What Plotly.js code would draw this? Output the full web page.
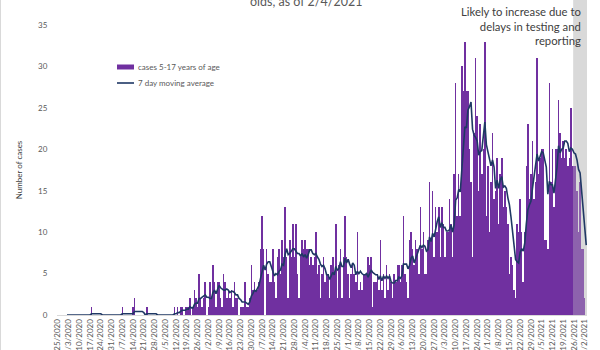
<!DOCTYPE html>
<html>
<head>
<meta charset="utf-8">
<script src="https://cdn.plot.ly/plotly-3.0.1.min.js"></script>
<style>
  html, body { margin: 0; padding: 0; background: #ffffff; }
  #chart { width: 600px; height: 350px; }
</style>
</head>
<body>
<div id="chart"></div>
<script>
// ---- data ----
const firstDate = '2020-02-25';           // first category on the x axis
const delayedFrom = '2021-01-26';         // start of the shaded "likely to increase" period
const seriesNames = ['cases 5-17 years of age', '7 day moving average'];
const titleLine = 'olds, as of 2/4/2021';
const noteText = 'Likely to increase due to<br>delays in testing and<br>reporting';
const yTitle = 'Number of cases';

// daily cases, 2/25/2020 .. 2/3/2021
const cases = [
  0,0,0,0,0,0,0, 0,0,0,0,0,0,0, 0,0,0,0,0,0,0, 0,1,0,0,0,0,0,
  0,0,0,0,0,0,0, 0,0,0,0,0,0,0, 1,0,0,0,0,0,0, 1,2,0,0,0,0,0,
  0,0,1,0,0,0,0, 0,0,0,0,0,0,0, 0,0,0,0,0,0,
  1,0,1,0,1,1,0,
  1,1,1,2,0,1,3,
  2,1,5,2,1,2,4,
  0,1,4,2,6,4,1,
  4,4,2,1,5,4,2,
  3,2,3,1,4,2,2,
  0,1,1,1,4,1,1,
  2,6,3,4,3,3,4,
  8,12,8,0,8,5,4,
  4,8,4,2,7,8,5,
  9,7,13,7,2,9,7,
  11,7,11,5,2,7,9,
  8,9,8,8,6,7,6,
  7,10,5,6,2,5,7,
  4,5,5,2,6,7,5,
  11,2,6,8,2,7,12,
  7,5,2,5,6,5,4,
  10,3,4,3,5,5,5,
  7,6,7,1,4,4,5,
  3,9,3,5,2,6,3,
  5,4,2,5,4,6,6,
  4,6,12,5,4,2,9,
  10,8,6,9,8,5,13,
  8,10,5,5,9,16,9,
  15,7,13,10,13,7,13,
  11,7,10,10,14,11,7,
  17,28,12,17,12,30,27,
  33,27,27,20,16,7,22,
  31,24,15,23,17,20,33,
  12,18,10,16,22,14,15,
  19,11,17,19,13,15,13,
  11,5,7,6,3,2,11,
  10,14,10,4,10,18,23,
  14,17,21,14,16,31,17,
  19,20,20,9,9,8,28,
  16,20,13,20,20,26,22,
  19,21,19,20,18,19,25,
  18,18,18,15,10,16,8,
  8,2,0
];

// ---- derived ----
function dayString(i) {
  const p = firstDate.split('-').map(Number);
  const d = new Date(Date.UTC(p[0], p[1] - 1, p[2] + i));
  return d.toISOString().slice(0, 10);
}
const dates = cases.map((_, i) => dayString(i));
const movingAvg = cases.map((v, i) => {
  if (i < 6) return null;
  let s = 0;
  for (let k = i - 6; k <= i; k++) s += cases[k];
  return s / 7;
});
const barColor = '#7030a0';
const lineColor = '#1f3864';
const barColors = dates.map(d => d >= delayedFrom ? '#8d62ad' : barColor);

// ---- layout geometry (pixels) ----
const W = 600, H = 350;
const M = {l: 57, r: 13, t: 25, b: 35};
const pw = W - M.l - M.r, ph = H - M.t - M.b;
const px = x => (x - M.l) / pw;        // pixel x -> paper x
const py = y => (H - M.b - y) / ph;     // pixel y -> paper y

const n = cases.length;
const bandIndex = dates.indexOf(delayedFrom);
const bandX0 = bandIndex / n;           // paper x of the band's left edge

const xStart = new Date(Date.UTC(2020, 1, 24, 12)).toISOString();
const xEnd = new Date(dates[n - 1] + 'T12:00:00Z').toISOString();

const traces = [
  {
    type: 'bar',
    name: seriesNames[0],
    x: dates,
    y: cases,
    marker: {color: barColors, line: {width: 0}},
    showlegend: false,
    hoverinfo: 'skip'
  },
  {
    type: 'scatter',
    mode: 'lines',
    name: seriesNames[1],
    x: dates,
    y: movingAvg,
    line: {color: lineColor, width: 1.6},
    showlegend: false,
    hoverinfo: 'skip'
  }
];

const greyText = '#595959';
const legendText = (txt, yPix) => ({
  xref: 'paper', yref: 'paper',
  x: px(136), y: py(yPix), xanchor: 'left', yanchor: 'middle',
  text: txt, showarrow: false,
  font: {size: 8, color: greyText}
});

const layout = {
  width: W, height: H,
  margin: M,
  paper_bgcolor: '#ffffff',
  plot_bgcolor: 'rgba(0,0,0,0)',
  font: {family: 'Lato, "Open Sans", sans-serif', color: greyText, size: 8},
  bargap: 0,
  showlegend: false,
  xaxis: {
    type: 'date',
    range: [xStart, xEnd],
    tick0: firstDate,
    dtick: 7 * 86400000,
    tickformat: '%-m/%-d/%Y',
    tickangle: -90,
    tickfont: {size: 8, color: greyText},
    showgrid: false,
    zeroline: false,
    showline: true,
    linecolor: '#d9d9d9',
    linewidth: 1,
    ticks: '',
    automargin: false,
    fixedrange: true
  },
  yaxis: {
    range: [0, 35],
    dtick: 5,
    tick0: 0,
    showgrid: false,
    zeroline: false,
    showline: false,
    ticks: 'outside',
    ticklen: 7,
    tickcolor: 'rgba(0,0,0,0)',
    tickfont: {size: 8, color: greyText},
    title: {text: yTitle, font: {size: 8, color: '#404040'}, standoff: 14},
    automargin: false,
    fixedrange: true
  },
  shapes: [
    {
      type: 'rect', xref: 'paper', yref: 'paper',
      x0: bandX0, x1: 1, y0: 0, y1: py(0),
      fillcolor: '#d9d9d9', line: {width: 0}, layer: 'below'
    },
    // legend swatches
    {
      type: 'rect', xref: 'paper', yref: 'paper',
      x0: px(117), x1: px(134), y0: py(69.5), y1: py(64.5),
      fillcolor: barColor, line: {width: 0}
    },
    {
      type: 'line', xref: 'paper', yref: 'paper',
      x0: px(117), x1: px(134), y0: py(83), y1: py(83),
      line: {color: lineColor, width: 1.6}
    },
    // faint frame edge at the left of the chart area
    {
      type: 'line', xref: 'paper', yref: 'paper',
      x0: px(0.5), x1: px(0.5), y0: py(0), y1: py(350),
      line: {color: '#d9d9d9', width: 1}
    }
  ],
  annotations: [
    {
      xref: 'paper', yref: 'paper',
      x: px(306), y: py(2), xanchor: 'center', yanchor: 'middle',
      text: titleLine, showarrow: false,
      font: {size: 12.5, color: greyText}
    },
    {
      xref: 'paper', yref: 'paper',
      x: px(583), y: py(3), xanchor: 'right', yanchor: 'top',
      align: 'right',
      text: noteText, showarrow: false,
      font: {size: 11.3, color: '#404040'}
    },
    legendText(seriesNames[0], 67),
    legendText(seriesNames[1], 83)
  ]
};

Plotly.newPlot('chart', traces, layout, {staticPlot: true, displayModeBar: false});
</script>
</body>
</html>
